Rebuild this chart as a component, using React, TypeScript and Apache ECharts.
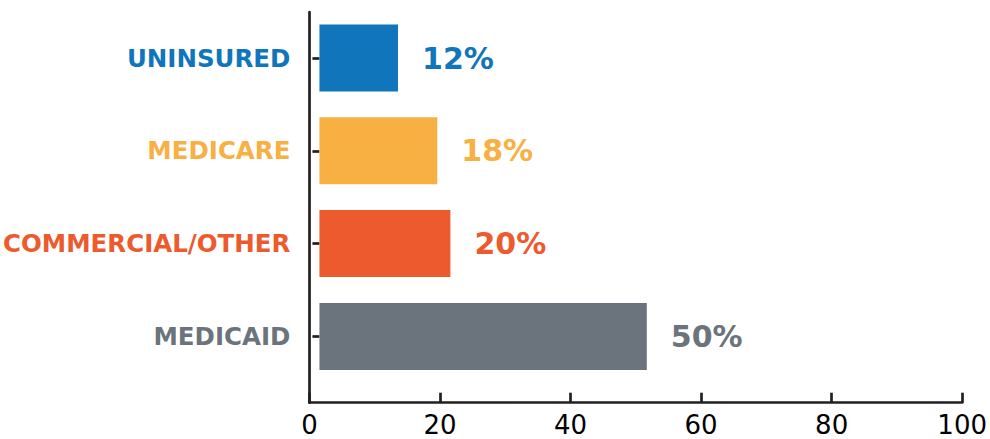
import React, { useEffect, useRef } from "react";
import * as echarts from "echarts";

const categories = ["UNINSURED", "MEDICARE", "COMMERCIAL/OTHER", "MEDICAID"];
const values = [12, 18, 20, 50];
const xTicks = [0, 20, 40, 60, 80, 100];

const palette = ["#1075bb", "#f8b042", "#ec5a2e", "#6b747c"];
const AXIS = "#231f20";
const FONT = "DejaVu Sans";

export default function App() {
  const ref = useRef<HTMLDivElement>(null);

  useEffect(() => {
    if (!ref.current) return;
    const chart = echarts.init(ref.current, undefined, { renderer: "svg" });
    chart.setOption({
      animation: false,
      backgroundColor: "#ffffff",
      grid: [
        { left: 309.5, top: 12, right: 23, bottom: 36.3, containLabel: false },
        { left: 316.7, top: 11.6, right: 15.8, bottom: 56.2, containLabel: false },
      ],
      xAxis: [
        {
          gridIndex: 0,
          type: "value",
          min: xTicks[0],
          max: xTicks[xTicks.length - 1],
          interval: 20,
          axisLine: { show: true, lineStyle: { color: AXIS, width: 2.7 } },
          axisTick: { show: true, inside: true, length: 10, lineStyle: { color: AXIS, width: 2.7 } },
          splitLine: { show: false },
          axisLabel: { color: "#000", fontFamily: FONT, fontSize: 26, margin: 9, lineHeight: 26 },
        },
        {
          gridIndex: 1,
          type: "value",
          min: xTicks[0],
          max: xTicks[xTicks.length - 1],
          show: false,
        },
      ],
      yAxis: [
        {
          gridIndex: 0,
          type: "value",
          min: 0,
          max: 1,
          axisLine: { show: true, lineStyle: { color: AXIS, width: 2.7 } },
          axisTick: { show: false },
          axisLabel: { show: false },
          splitLine: { show: false },
        },
        {
          gridIndex: 1,
          type: "category",
          inverse: true,
          data: categories,
          axisLine: { show: false },
          axisTick: { show: true, alignWithLabel: true, length: 7, lineStyle: { color: AXIS, width: 2.7 } },
          splitLine: { show: false },
          axisLabel: {
            margin: 29,
            fontFamily: FONT,
            fontWeight: "bold",
            fontSize: 24.5,
            color: (_v: string, i: number) => palette[i],
          },
        },
      ],
      series: [
        {
          type: "bar",
          xAxisIndex: 1,
          yAxisIndex: 1,
          barWidth: 67,
          data: values.map((v, i) => ({
            value: v,
            itemStyle: { color: palette[i] },
            label: { color: palette[i] },
          })),
          label: {
            show: true,
            position: "right",
            distance: 24,
            formatter: "{c}%",
            fontFamily: FONT,
            fontWeight: "bold",
            fontSize: 30,
          },
        },
      ],
    });
    return () => chart.dispose();
  }, []);

  return (
    <div
      ref={ref}
      style={{ position: "fixed", left: 0, top: 0, width: 990, height: 439, background: "#fff" }}
    />
  );
}
